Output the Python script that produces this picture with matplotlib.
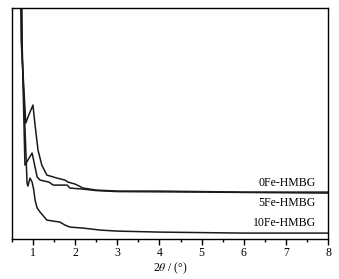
import matplotlib.pyplot as plt
import numpy as np

plt.rcParams['font.family'] = ['Liberation Serif', 'DejaVu Serif']
plt.rcParams['mathtext.fontset'] = 'stix'

# intensity in arbitrary units
x_0fe = [0.66, 0.72, 0.83, 0.90, 1.00, 1.05, 1.12, 1.21, 1.33, 1.57, 1.76, 1.83,
         2.00, 2.19, 2.50, 3.00, 4.00, 5.00, 6.00, 7.00, 8.00]
y_0fe = [439, 199, 116, 124, 134, 114, 89, 74, 64, 61, 59, 57,
         55, 51, 49, 48, 48, 47.5, 47, 47, 47]

x_5fe = [0.67, 0.74, 0.81, 0.88, 0.98, 1.10, 1.17, 1.38, 1.48, 1.81, 1.88,
         2.19, 2.50, 3.00, 5.00, 8.00]
y_5fe = [439, 199, 74, 79, 86, 62, 59, 57, 54, 54, 51,
         50, 48.5, 47.5, 47, 46]

x_10fe = [0.67, 0.75, 0.86, 0.88, 0.93, 0.98, 1.02, 1.05, 1.10, 1.17, 1.33,
          1.64, 1.76, 1.88, 2.19, 2.60, 3.00, 4.00, 5.00, 6.00, 8.00]
y_10fe = [439, 179, 56, 53, 61, 57, 49, 39, 31, 27, 19,
          17, 14, 12, 11, 9, 8, 7, 6.5, 6, 6]

labels = ["0Fe-HMBG", "5Fe-HMBG", "10Fe-HMBG"]
label_y = [56, 36, 16]

fig = plt.figure(figsize=(3.39, 2.79), dpi=100)
ax = fig.add_axes([0.035, 0.143, 0.933, 0.830])

for xs, ys in [(x_0fe, y_0fe), (x_5fe, y_5fe), (x_10fe, y_10fe)]:
    ax.plot(xs, ys, color="#1a1a1a", lw=1.1)

for lab, ly in zip(labels, label_y):
    ax.text(7.71, ly, lab, ha="right", va="center", fontsize=8.5)

ax.set_xlim(0.5, 8)
ax.set_ylim(0, 231.5)
ax.set_xticks(np.arange(1, 9))
ax.set_xticks(np.arange(0.5, 8.01, 0.5), minor=True)
ax.set_yticks([])
ax.tick_params(axis="x", which="major", direction="out", length=4, width=1, labelsize=8.5, pad=2)
ax.tick_params(axis="x", which="minor", direction="out", length=2.5, width=1)
for s in ax.spines.values():
    s.set_linewidth(1.0)
ax.set_xlabel(r"2$\mathit{\theta}$ / (°)", fontsize=8.5, labelpad=1)

fig.savefig("out.png", dpi=100)
